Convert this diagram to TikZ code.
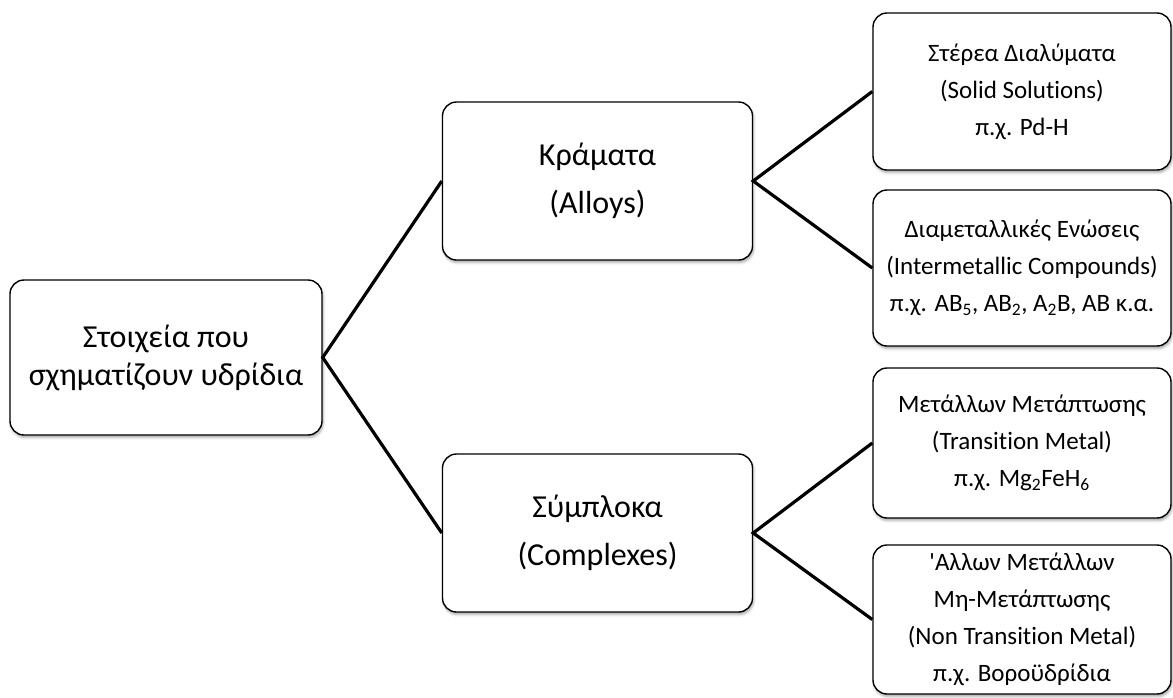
\documentclass[tikz,border=0pt]{standalone}
\usepackage{fontspec}
\setmainfont{Carlito}[Ligatures={TeXOff,NoCommon}]
\usetikzlibrary{shadows.blur}
\begin{document}
\begin{tikzpicture}[x=1pt,y=-1pt,
  box/.style={draw=black, line width=1.4pt, fill=white, rounded corners=14pt, align=center,
    blur shadow={shadow xshift=1pt, shadow yshift=-2.5pt, shadow blur radius=2.5pt, shadow opacity=35}},
  big/.style={font=\fontsize{32}{38}\selectfont},
  mid/.style={font=\fontsize{32}{48}\selectfont},
  small/.style={font=\fontsize{25}{37}\selectfont},
  conn/.style={line width=3.2pt, line join=miter}]
\useasboundingbox (0,0) rectangle (1173,697);
\node[box,big,minimum width=312pt,minimum height=155pt] (root) at (166,357.5) {Στοιχεία που\\σχηματίζουν υδρίδια};
\node[box,mid,minimum width=310pt,minimum height=158pt] (alloy) at (597.5,181) {Κράματα\\(Alloys)};
\node[box,mid,minimum width=310pt,minimum height=158pt] (compl) at (597.5,533) {Σύμπλοκα\\(Complexes)};
\node[box,small,minimum width=298pt,minimum height=157pt] (ss) at (1022,91.5) {Στέρεα Διαλύματα\\(Solid Solutions)\\π.χ. Pd-H};
\node[box,small,minimum width=298pt,minimum height=156pt] (ic) at (1022,268) {Διαμεταλλικές Ενώσεις\\(Intermetallic Compounds)\\π.χ. AB\textsubscript{5}, AB\textsubscript{2}, A\textsubscript{2}B, AB κ.α.};
\node[box,small,minimum width=298pt,minimum height=150pt] (tm) at (1022,443) {Μετάλλων Μετάπτωσης\\(Transition Metal)\\π.χ. Mg\textsubscript{2}FeH\textsubscript{6}};
\node[box,small,minimum width=298pt,minimum height=149pt] (ntm) at (1022,619.5) {'Αλλων Μετάλλων\\Μη-Μετάπτωσης\\(Non Transition Metal)\\π.χ. Βοροϋδρίδια};
\draw[conn] (alloy.west) -- (root.east) -- (compl.west);
\draw[conn] (ss.west) -- (alloy.east) -- (ic.west);
\draw[conn] (tm.west) -- (compl.east) -- (ntm.west);
\end{tikzpicture}
\end{document}
